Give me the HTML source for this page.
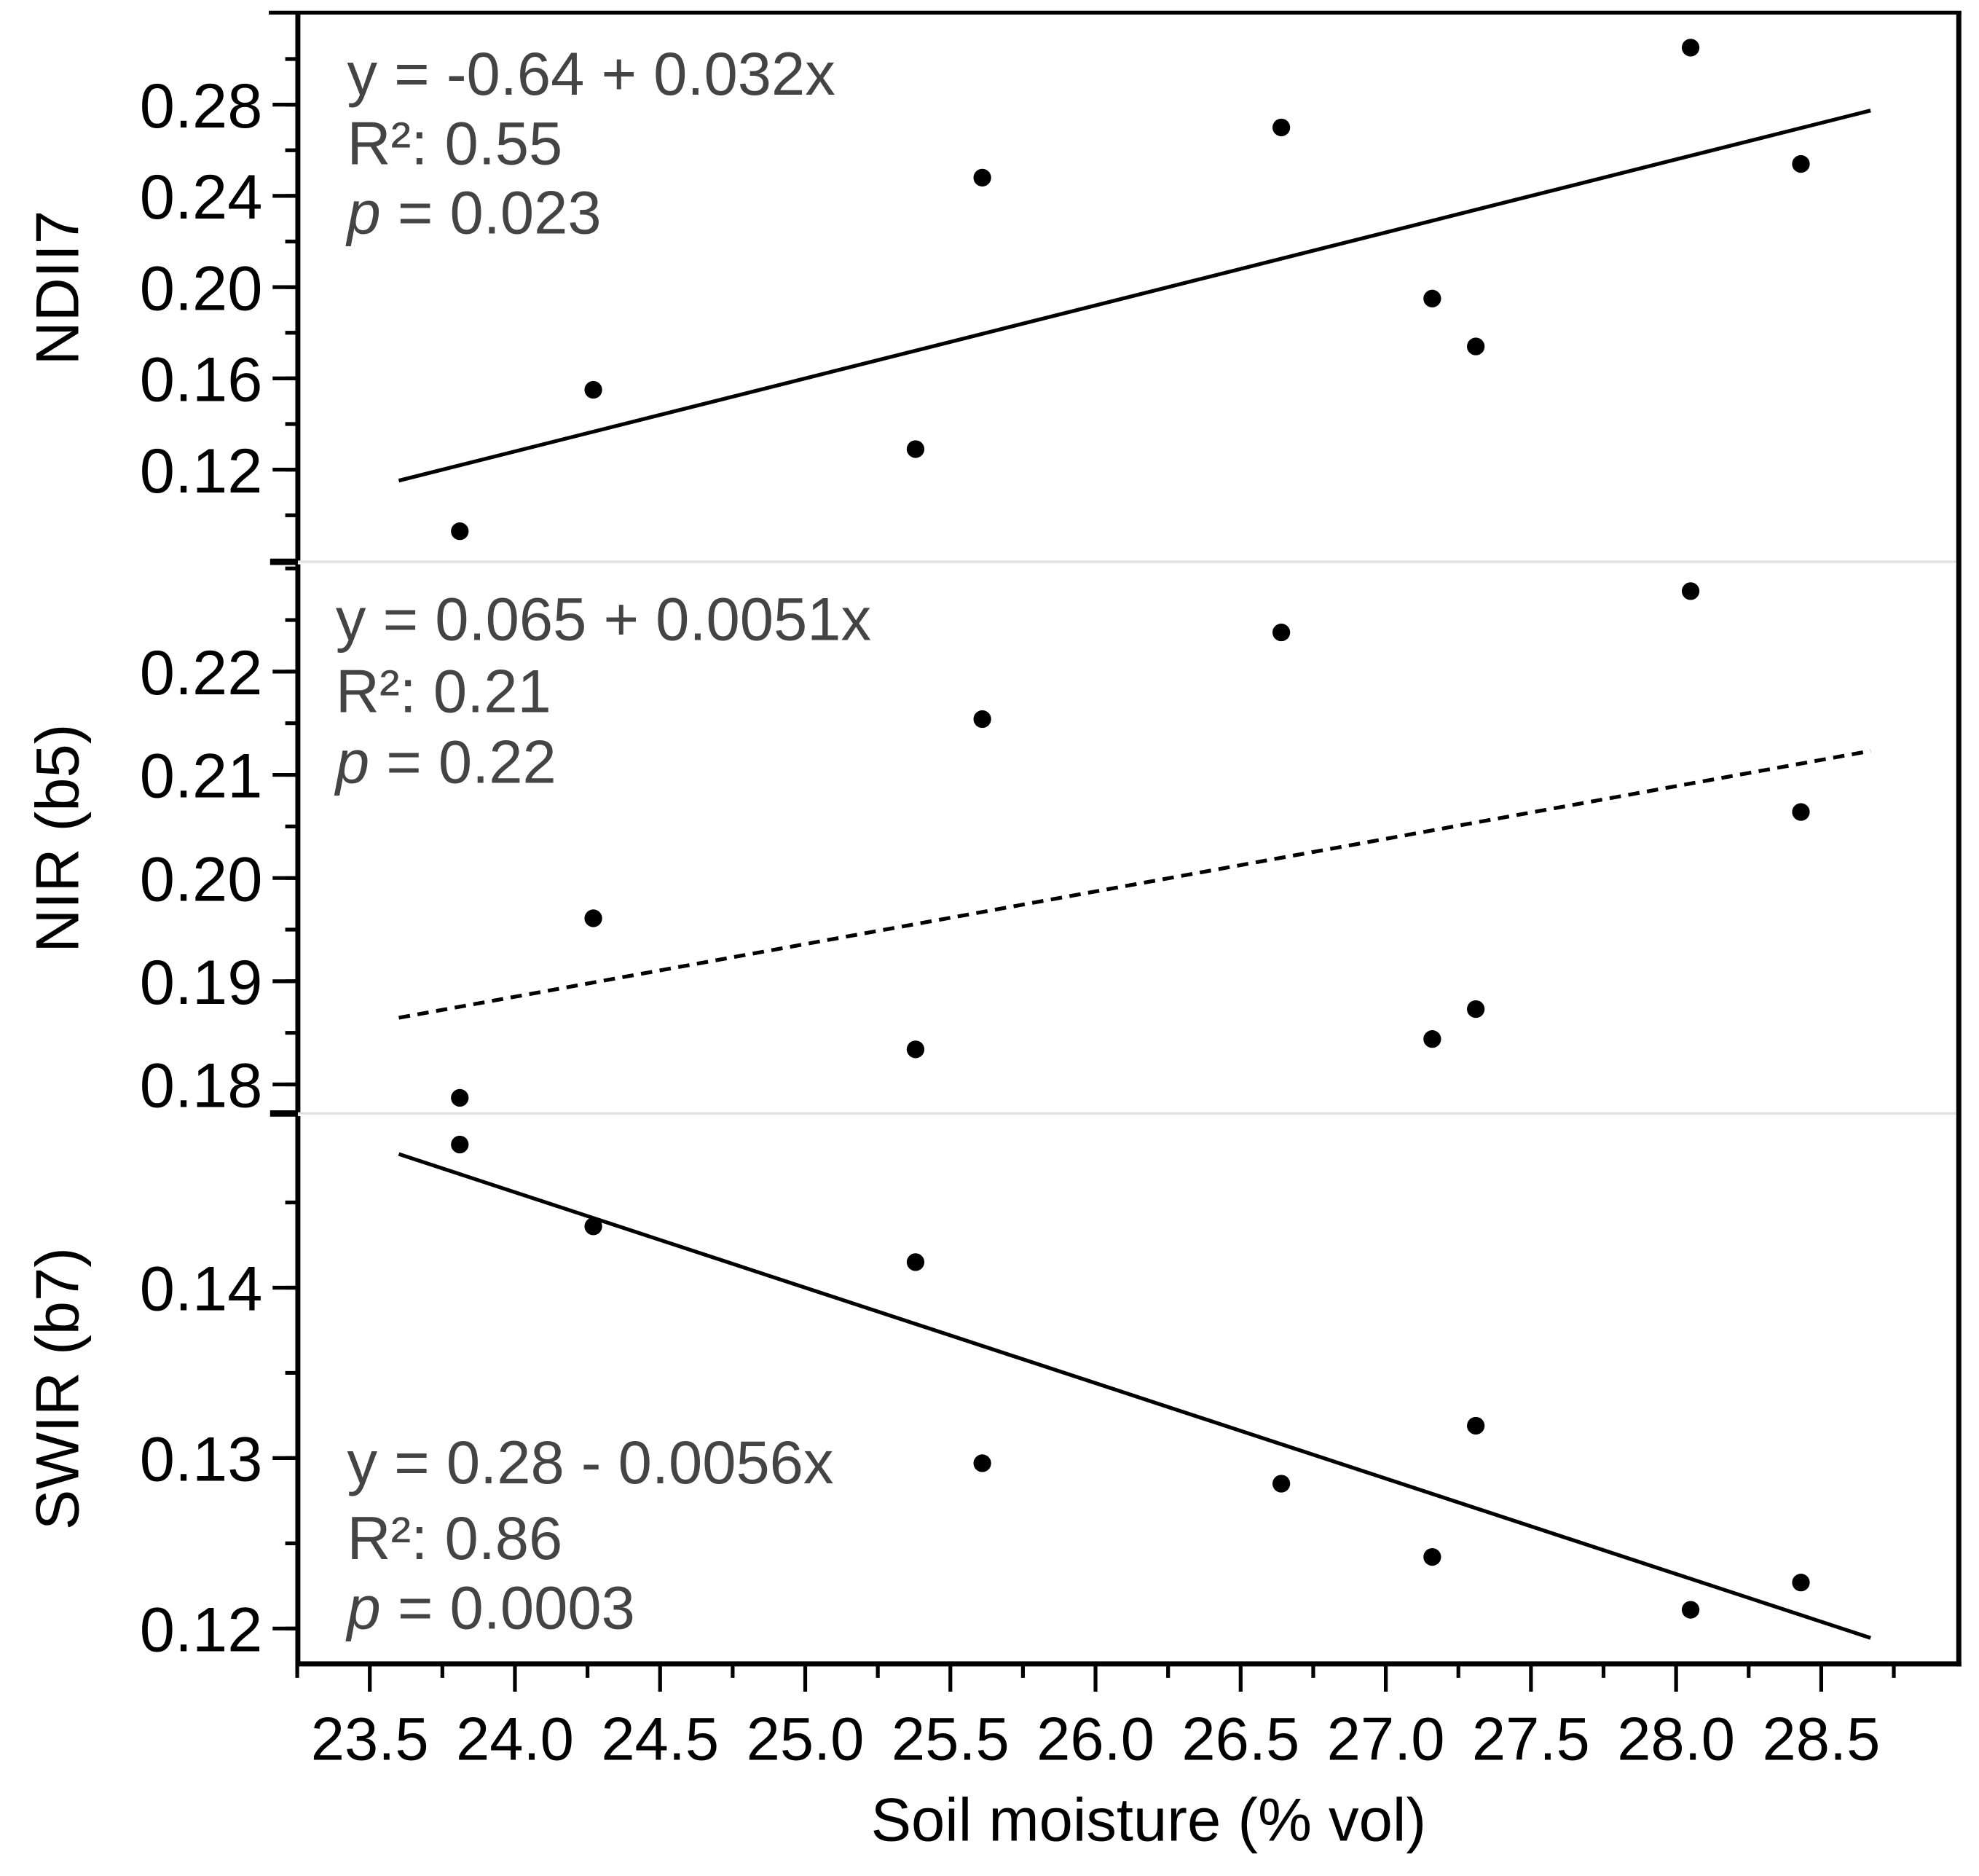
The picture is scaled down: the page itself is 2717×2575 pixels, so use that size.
<!DOCTYPE html>
<html><head><meta charset="utf-8"><style>
html,body{margin:0;padding:0;background:#fff;}
svg{display:block;}
text{font-family:"Liberation Sans",Arial,sans-serif;}
</style></head><body>
<svg id="chart" xmlns="http://www.w3.org/2000/svg" width="2717" height="2575" viewBox="0 0 1568 1486">
<rect x="0" y="0" width="1568" height="1486" fill="#fff"/>
<g id="g"></g>
</svg>
<script>
const soilMoisture = [23.81, 24.27, 25.38, 25.61, 26.64, 27.16, 27.31, 28.05, 28.43];
const ndii7Values = [0.093, 0.155, 0.129, 0.248, 0.270, 0.195, 0.174, 0.305, 0.254];
const nirValues = [0.1787, 0.1961, 0.1834, 0.2154, 0.2238, 0.1844, 0.1873, 0.2278, 0.2064];
const swirValues = [0.1484, 0.1436, 0.1415, 0.1297, 0.1285, 0.1242, 0.1319, 0.1211, 0.1227];
const fitIntercepts = [-0.64, 0.0661, 0.28];
const fitSlopes = [0.032, 0.0051, -0.0056];
const xTickLabels = ["23.5","24.0","24.5","25.0","25.5","26.0","26.5","27.0","27.5","28.0","28.5"];
const ndii7TickLabels = ["0.12","0.16","0.20","0.24","0.28"];
const nirTickLabels = ["0.18","0.19","0.20","0.21","0.22"];
const swirTickLabels = ["0.12","0.13","0.14"];

const NS="http://www.w3.org/2000/svg";
const gRoot=document.getElementById('g');
function mk(tag,attrs,parent){const e=document.createElementNS(NS,tag);for(const k in attrs)e.setAttribute(k,attrs[k]);(parent||gRoot).appendChild(e);return e;}
const AXL=236,AXR=1552;
function xs(v){return 293+(v-23.5)*230;}
const panels=[
 {name:'ndii7',title:'NDII7',top:10,bot:445,y0:372,v0:0.12,k:1807,vals:ndii7Values,ticks:ndii7TickLabels,minor:0.02,dash:false,
  ann:['y = -0.64 + 0.032x','R²: 0.55','0.023'],ax:275,ay:[75,130,185],tcy:228},
 {name:'nir',title:'NIR (b5)',top:445,bot:882,y0:859,v0:0.18,k:8175,vals:nirValues,ticks:nirTickLabels,minor:0.005,dash:true,
  ann:['y = 0.065 + 0.0051x','R²: 0.21','0.22'],ax:266,ay:[507,564,620],tcy:664},
 {name:'swir',title:'SWIR (b7)',top:882,bot:1318,y0:1290,v0:0.12,k:13500,vals:swirValues,ticks:swirTickLabels,minor:0.005,dash:false,
  ann:['y = 0.28 - 0.0056x','R²: 0.86','0.0003'],ax:275,ay:[1175,1235,1290],tcy:1100}
];
panels.forEach((p,pi)=>{
  const ys=v=>p.y0-(v-p.v0)*p.k;
  const pg=mk('g',{});
  
  
  const ax=mk('line',{x1:AXL,y1:p.top+(pi?2:0),x2:AXL,y2:p.bot,stroke:'#000','stroke-width':4},pg);
  
  
  if(pi<2){
    const s=mk('line',{x1:AXL,y1:p.bot,x2:AXR,y2:p.bot,stroke:'#e2e2e2','stroke-width':2},pg);
    
    
    mk('line',{x1:AXL-22,y1:p.bot,x2:AXL,y2:p.bot,stroke:'#000','stroke-width':5},pg);
  }
  const vmin=p.v0-(p.bot-p.y0)/p.k, vmax=p.v0+(p.y0-p.top)/p.k;
  for(let v=Math.ceil(vmin/p.minor-1e-6)*p.minor; v<=vmax+1e-9; v+=p.minor){
    const y=ys(v); if(y<p.top+4||y>p.bot-4) continue;
    mk('line',{x1:AXL-10,y1:y,x2:AXL,y2:y,stroke:'#000','stroke-width':3},pg);
  }
  p.ticks.forEach(t=>{
    const y=ys(parseFloat(t));
    mk('line',{x1:AXL-20,y1:y,x2:AXL,y2:y,stroke:'#000','stroke-width':3},pg);
    const tx=mk('text',{x:208,y:y+18,'font-size':50,'text-anchor':'end',fill:'#000'},pg);
    tx.textContent=t;
    
    
  });
  const tt=mk('text',{x:62,y:p.tcy,'font-size':48,'text-anchor':'middle',transform:`rotate(-90 62 ${p.tcy})`,fill:'#000'},pg);
  tt.textContent=p.title;
  
  
  const xa0=23.6, xb0=28.67;
  const fl=mk('line',{x1:xs(xa0),y1:ys(fitIntercepts[pi]+fitSlopes[pi]*xa0),x2:xs(xb0),y2:ys(fitIntercepts[pi]+fitSlopes[pi]*xb0),stroke:'#000','stroke-width':3},pg);
  if(p.dash) fl.setAttribute('stroke-dasharray','9 6');
  
  
  p.vals.forEach((v,i)=>{
    const c=mk('circle',{cx:xs(soilMoisture[i]),cy:ys(v),r:7,fill:'#000'},pg);
    
    
  });
  const a1=mk('text',{x:p.ax,y:p.ay[0],'font-size':48,fill:'#444'},pg); a1.textContent=p.ann[0];
  
  
  const a2=mk('text',{x:p.ax,y:p.ay[1],'font-size':48,fill:'#444'},pg); a2.textContent=p.ann[1];
  
  
  const a3=mk('text',{x:p.ax,y:p.ay[2],'font-size':48,fill:'#444'},pg);
  
  
  const ts=mk('tspan',{'font-style':'italic'},a3); ts.textContent='p';
  const ts2=mk('tspan',{},a3); ts2.textContent=' = '+p.ann[2];
});
const topBorder=mk('line',{x1:213,y1:10,x2:1554,y2:10,stroke:'#000','stroke-width':3});


const rightBorder=mk('line',{x1:1552,y1:9,x2:1552,y2:1320,stroke:'#000','stroke-width':4});


const xAxisLine=mk('line',{x1:AXL-2,y1:1318,x2:AXR+2,y2:1318,stroke:'#000','stroke-width':4});


for(let v=23.25; v<=28.76; v+=0.25){
  const x=xs(v);
  const major=Math.abs(v*2-Math.round(v*2))<1e-6;
  mk('line',{x1:x,y1:1318,x2:x,y2:1318+(major?22:11),stroke:'#000','stroke-width':3});
}
xTickLabels.forEach(t=>{
  const tx=mk('text',{x:xs(parseFloat(t)),y:1394,'font-size':48,'text-anchor':'middle',fill:'#000'});
  tx.textContent=t;
  
  
});
const xTitle=mk('text',{x:910,y:1458,'font-size':48,'text-anchor':'middle',fill:'#000'});
xTitle.textContent='Soil moisture (% vol)';


</script>
</body></html>
